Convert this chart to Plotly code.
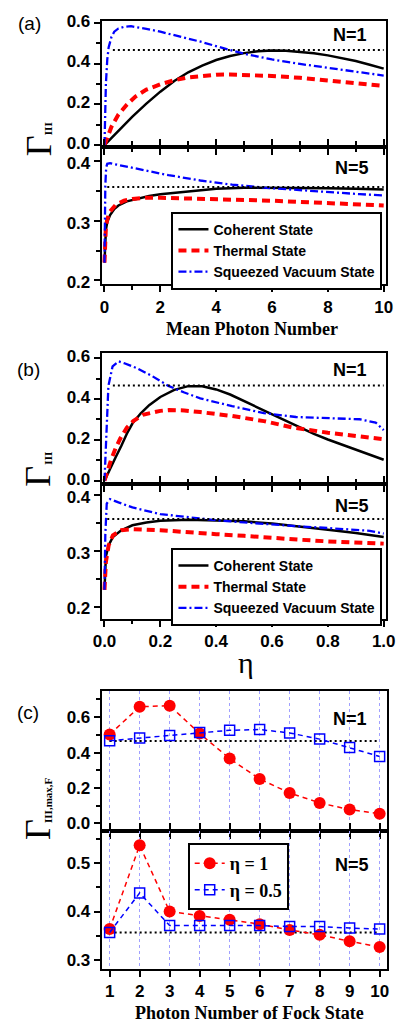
import plotly.graph_objects as go

W, H = 406, 1032

# ---------------- data ----------------
# (a) vs mean photon number, N=1
a1_coh_x = [0, 0.5, 1, 1.5, 2, 2.5, 3, 3.5, 4, 4.5, 5, 5.5, 6, 6.5, 7, 7.5, 8, 8.5, 9, 9.5, 10]
a1_coh_y = [0, 0.072, 0.14, 0.203, 0.262, 0.314, 0.357, 0.39, 0.417, 0.437, 0.451, 0.46, 0.464, 0.463, 0.458, 0.45, 0.44, 0.427, 0.412, 0.394, 0.375]
a1_th_x = [0, 0.1, 0.25, 0.5, 0.8, 1.1, 1.5, 2, 2.5, 3, 3.5, 4, 4.5, 5, 6, 7, 8, 9, 10]
a1_th_y = [0, 0.035, 0.09, 0.15, 0.198, 0.237, 0.272, 0.298, 0.318, 0.332, 0.34, 0.345, 0.346, 0.345, 0.339, 0.33, 0.316, 0.302, 0.29]
a1_sq_x = [0, 0.02, 0.05, 0.1, 0.15, 0.25, 0.35, 0.5, 0.7, 0.95, 1.2, 1.5, 2, 2.5, 3, 3.5, 4, 4.5, 5, 5.5, 6, 7, 8, 9, 10]
a1_sq_y = [0, 0.15, 0.3, 0.42, 0.48, 0.53, 0.556, 0.572, 0.58, 0.583, 0.578, 0.57, 0.556, 0.54, 0.523, 0.505, 0.485, 0.465, 0.448, 0.434, 0.42, 0.398, 0.378, 0.359, 0.341]
# (a) N=5
a5_coh_x = [0, 0.02, 0.05, 0.1, 0.2, 0.35, 0.5, 0.8, 1.2, 1.6, 2, 3, 4, 5, 6, 7, 8, 9, 10]
a5_coh_y = [0.23, 0.265, 0.285, 0.298, 0.31, 0.32, 0.326, 0.333, 0.338, 0.342, 0.345, 0.35, 0.354, 0.356, 0.356, 0.356, 0.355, 0.354, 0.353]
a5_th_x = [0, 0.02, 0.05, 0.1, 0.2, 0.4, 0.7, 1, 1.5, 2, 3, 4, 5, 6, 7, 8, 9, 10]
a5_th_y = [0.23, 0.27, 0.29, 0.303, 0.316, 0.327, 0.334, 0.337, 0.339, 0.339, 0.338, 0.337, 0.336, 0.334, 0.332, 0.33, 0.328, 0.326]
a5_sq_x = [0, 0.01, 0.03, 0.06, 0.1, 0.2, 0.5, 1.14, 2.29, 3.43, 4.57, 5.71, 6.86, 8, 9.14, 10]
a5_sq_y = [0.23, 0.3, 0.36, 0.39, 0.396, 0.397, 0.394, 0.388, 0.377, 0.368, 0.361, 0.356, 0.352, 0.348, 0.345, 0.343]

# (b) vs eta, N=1
b1_coh_x = [0, 0.02, 0.04, 0.06, 0.08, 0.1, 0.13, 0.16, 0.2, 0.25, 0.3, 0.35, 0.4, 0.45, 0.5, 0.55, 0.6, 0.65, 0.7, 0.75, 0.8, 0.85, 0.9, 0.95, 1.0]
b1_coh_y = [0, 0.06, 0.115, 0.17, 0.23, 0.28, 0.33, 0.37, 0.41, 0.445, 0.463, 0.462, 0.447, 0.422, 0.39, 0.355, 0.322, 0.29, 0.258, 0.229, 0.202, 0.177, 0.152, 0.127, 0.103]
b1_th_x = [0, 0.01, 0.023, 0.04, 0.057, 0.08, 0.103, 0.137, 0.2, 0.23, 0.286, 0.343, 0.457, 0.571, 0.67, 0.8, 0.914, 1.0]
b1_th_y = [0, 0.045, 0.1, 0.16, 0.208, 0.26, 0.292, 0.323, 0.342, 0.346, 0.344, 0.336, 0.317, 0.292, 0.262, 0.235, 0.215, 0.203]
b1_sq_x = [0, 0.006, 0.014, 0.029, 0.051, 0.069, 0.114, 0.171, 0.229, 0.286, 0.343, 0.457, 0.571, 0.686, 0.8, 0.914, 0.971, 1.0]
b1_sq_y = [0, 0.24, 0.464, 0.56, 0.584, 0.576, 0.552, 0.512, 0.464, 0.432, 0.403, 0.365, 0.331, 0.312, 0.307, 0.301, 0.285, 0.248]
# (b) N=5
b5_coh_x = [0, 0.005, 0.015, 0.03, 0.06, 0.1, 0.15, 0.2, 0.3, 0.4, 0.5, 0.6, 0.7, 0.8, 0.9, 1.0]
b5_coh_y = [0.23, 0.29, 0.31, 0.325, 0.337, 0.346, 0.351, 0.354, 0.356, 0.355, 0.353, 0.349, 0.344, 0.338, 0.332, 0.325]
b5_th_x = [0, 0.005, 0.015, 0.03, 0.06, 0.1, 0.2, 0.3, 0.4, 0.5, 0.6, 0.7, 0.8, 0.9, 1.0]
b5_th_y = [0.23, 0.28, 0.31, 0.328, 0.337, 0.339, 0.337, 0.333, 0.33, 0.327, 0.323, 0.32, 0.317, 0.315, 0.313]
b5_sq_x = [0, 0.003, 0.008, 0.02, 0.05, 0.1, 0.2, 0.3, 0.4, 0.5, 0.6, 0.7, 0.8, 0.9, 0.95, 1.0]
b5_sq_y = [0.23, 0.33, 0.385, 0.393, 0.387, 0.378, 0.366, 0.36, 0.355, 0.351, 0.347, 0.344, 0.341, 0.338, 0.336, 0.331]

# (c) Fock states
fock_n = [1, 2, 3, 4, 5, 6, 7, 8, 9, 10]
c1_eta1 = [0.502, 0.659, 0.665, 0.508, 0.366, 0.251, 0.172, 0.116, 0.078, 0.055]
c1_eta05 = [0.467, 0.482, 0.497, 0.513, 0.526, 0.53, 0.511, 0.476, 0.428, 0.378]
c5_eta1 = [0.364, 0.536, 0.4, 0.391, 0.383, 0.374, 0.362, 0.352, 0.339, 0.327]
c5_eta05 = [0.357, 0.438, 0.371, 0.371, 0.371, 0.371, 0.369, 0.369, 0.366, 0.364]

# reference (dotted) levels
level_N1 = 0.466
level_N5 = 0.357
a_level_x = {1: [0.3, 10], 5: [0.1, 10]}
b_level_x = {1: [0.03, 1.0], 5: [0.01, 1.0]}
c_level_x = [1, 10]

names = ["Coherent State", "Thermal State", "Squeezed Vacuum State"]

# ---------------- helpers ----------------
def px(x):
    return x / W

def py(y):
    return 1 - y / H

fig = go.Figure()

BLACK = "black"
RED = "#ff0000"
BLUE = "#0000ff"
sty = {
    "coh": dict(color=BLACK, width=2.5, dash="solid"),
    "th": dict(color=RED, width=4, dash="8px,5px"),
    "sq": dict(color=BLUE, width=2.3, dash="8px,3px,2px,3px"),
}
dot_line = dict(color=BLACK, width=2, dash="2px,3px")


def add_curves(xa, ya, sets, level, level_x, legend_name, show):
    for (xs, ys), key, nm in zip(sets, ["coh", "th", "sq"], names):
        fig.add_trace(go.Scatter(x=xs, y=ys, mode="lines", line=sty[key], name=nm,
                                 xaxis=xa, yaxis=ya, showlegend=show, legend=legend_name))
    fig.add_trace(go.Scatter(x=level_x, y=[level] * len(level_x), mode="lines", line=dot_line,
                             xaxis=xa, yaxis=ya, showlegend=False, hoverinfo="skip"))


add_curves("x", "y", [(a1_coh_x, a1_coh_y), (a1_th_x, a1_th_y), (a1_sq_x, a1_sq_y)], level_N1, a_level_x[1], "legend", False)
add_curves("x2", "y2", [(a5_coh_x, a5_coh_y), (a5_th_x, a5_th_y), (a5_sq_x, a5_sq_y)], level_N5, a_level_x[5], "legend", True)
add_curves("x3", "y3", [(b1_coh_x, b1_coh_y), (b1_th_x, b1_th_y), (b1_sq_x, b1_sq_y)], level_N1, b_level_x[1], "legend2", False)
add_curves("x4", "y4", [(b5_coh_x, b5_coh_y), (b5_th_x, b5_th_y), (b5_sq_x, b5_sq_y)], level_N5, b_level_x[5], "legend2", True)

# (c)
for xa, ya, e1, e05, lvl, show in [("x5", "y5", c1_eta1, c1_eta05, level_N1, False),
                                     ("x6", "y6", c5_eta1, c5_eta05, level_N5, True)]:
    fig.add_trace(go.Scatter(x=c_level_x, y=[lvl] * len(c_level_x), mode="lines", line=dot_line,
                             xaxis=xa, yaxis=ya, showlegend=False, hoverinfo="skip"))
    fig.add_trace(go.Scatter(x=fock_n, y=e1, mode="lines+markers", name="η = 1",
                             line=dict(color=RED, width=1.5, dash="5px,4px"),
                             marker=dict(symbol="circle", size=12, color=RED),
                             xaxis=xa, yaxis=ya, showlegend=show, legend="legend3"))
    fig.add_trace(go.Scatter(x=fock_n, y=e05, mode="lines+markers", name="η = 0.5",
                             line=dict(color=BLUE, width=1.5, dash="5px,4px"),
                             marker=dict(symbol="square-open", size=10, color=BLUE, line=dict(width=1.5, color=BLUE)),
                             xaxis=xa, yaxis=ya, showlegend=show, legend="legend3"))

# ---------------- axes ----------------
tickfont = dict(family="Liberation Sans", size=17, color="black")
base = dict(showline=True, linecolor="black", linewidth=2, ticks="outside", tickcolor="black",
            tickwidth=2, ticklen=6, showgrid=False, zeroline=False, tickfont=tickfont,
            tickprefix="<b>", ticksuffix="</b>")

def minor(d, ln=3.5):
    return dict(ticks="outside", ticklen=ln, tickwidth=2, tickcolor="black", dtick=d, showgrid=False)

XD_ab = [px(97), px(395)]
XD_c = [px(97), px(396)]

def xaxis_cfg(domain, rng, dtick, mdtick, anchor, top, fmt=None, grid=False):
    d = dict(base, domain=domain, range=rng, dtick=dtick, tick0=0, anchor=anchor,
             mirror=True if top else "ticks", showticklabels=not top)
    if mdtick:
        d["minor"] = minor(mdtick)
    if fmt:
        d["tickformat"] = fmt
    if grid:
        d.update(showgrid=True, gridcolor="#a0a0ff", gridwidth=1, griddash="dot", tick0=1)
    return d

def yaxis_cfg(domain, rng, dtick, mdtick, anchor, shift):
    return dict(base, domain=domain, range=rng, dtick=dtick, tick0=0, anchor=anchor,
                mirror=True, tickformat=".1f", minor=minor(mdtick), ticklabelshift=shift)

layout = dict(
    xaxis=xaxis_cfg(XD_ab, [-0.1, 10.1], 2, 1, "y", True),
    xaxis2=xaxis_cfg(XD_ab, [-0.1, 10.1], 2, 1, "y2", False),
    xaxis3=xaxis_cfg(XD_ab, [-0.01, 1.01], 0.2, 0.1, "y3", True, ".1f"),
    xaxis4=xaxis_cfg(XD_ab, [-0.01, 1.01], 0.2, 0.1, "y4", False, ".1f"),
    xaxis5=xaxis_cfg(XD_c, [0.735, 10.26], 1, None, "y5", True, grid=True),
    xaxis6=xaxis_cfg(XD_c, [0.735, 10.26], 1, None, "y6", False, grid=True),
    yaxis=yaxis_cfg([py(140), py(11.7)], [-0.008, 0.611], 0.2, 0.1, "x", -2),
    yaxis2=yaxis_cfg([py(280), py(140)], [0.1934, 0.4248], 0.1, 0.05, "x2", 2),
    yaxis3=yaxis_cfg([py(483), py(350)], [-0.016, 0.624], 0.2, 0.1, "x3", -2),
    yaxis4=yaxis_cfg([py(620), py(483)], [0.178, 0.42], 0.1, 0.05, "x4", 2),
    yaxis5=yaxis_cfg([py(836), py(693)], [-0.044, 0.75], 0.2, 0.1, "x5", 0),
    yaxis6=yaxis_cfg([py(976), py(836)], [0.282, 0.565], 0.1, 0.05, "x6", 0),
)

leg_common = dict(bgcolor="white", bordercolor="black", borderwidth=2,
                  xanchor="left", yanchor="top", tracegroupgap=0)
layout["legend"] = dict(leg_common, x=px(170), y=py(206),
                        font=dict(family="Liberation Sans", size=14, color="black", weight="bold"))
layout["legend2"] = dict(leg_common, x=px(170), y=py(548),
                         font=dict(family="Liberation Sans", size=14, color="black", weight="bold"))
layout["legend3"] = dict(leg_common, x=px(187), y=py(848),
                         font=dict(family="Liberation Serif", size=18, color="black", weight="bold"))

fig.update_layout(**layout)

# ---------------- annotations ----------------
ann = []
def text(x, y, s, size, family="Liberation Sans", bold=False, angle=0):
    ann.append(dict(x=px(x), y=py(y), xref="paper", yref="paper", text=s, showarrow=False,
                    xanchor="center", yanchor="middle", textangle=angle,
                    font=dict(family=family, size=size, color="black", weight="bold" if bold else "normal")))

text(21, 15, "(a)", 19)
text(20, 367, "(b)", 19)
text(20, 715, "(c)", 19)
for y in (26, 367, 722):
    text(357, y, "N=1", 18, bold=True)
for y in (162, 505, 870):
    text(359, y, "N=5", 18, bold=True)

# Gamma labels
for gy, sy, sub in [(139, 122, "III"), (475, 457, "III"), (834, 804, "III,max,F")]:
    text(31, gy, "Γ", 36, family="Liberation Serif", angle=-90)
    text(41, sy, sub, 11, family="Liberation Serif", bold=True, angle=-90)

text(254, 325, "Mean Photon Number", 18, family="Liberation Serif", bold=True)
text(248, 664, "η", 30, family="Liberation Serif")
text(252, 1021, "Photon Number of Fock State", 18, family="Liberation Serif", bold=True)

fig.update_layout(annotations=ann, width=W, height=H, margin=dict(l=0, r=0, t=0, b=0),
                  paper_bgcolor="white", plot_bgcolor="white", showlegend=True)

fig.write_html("out.html", config={"displayModeBar": False},
               post_script="document.body.style.margin='0px';")
